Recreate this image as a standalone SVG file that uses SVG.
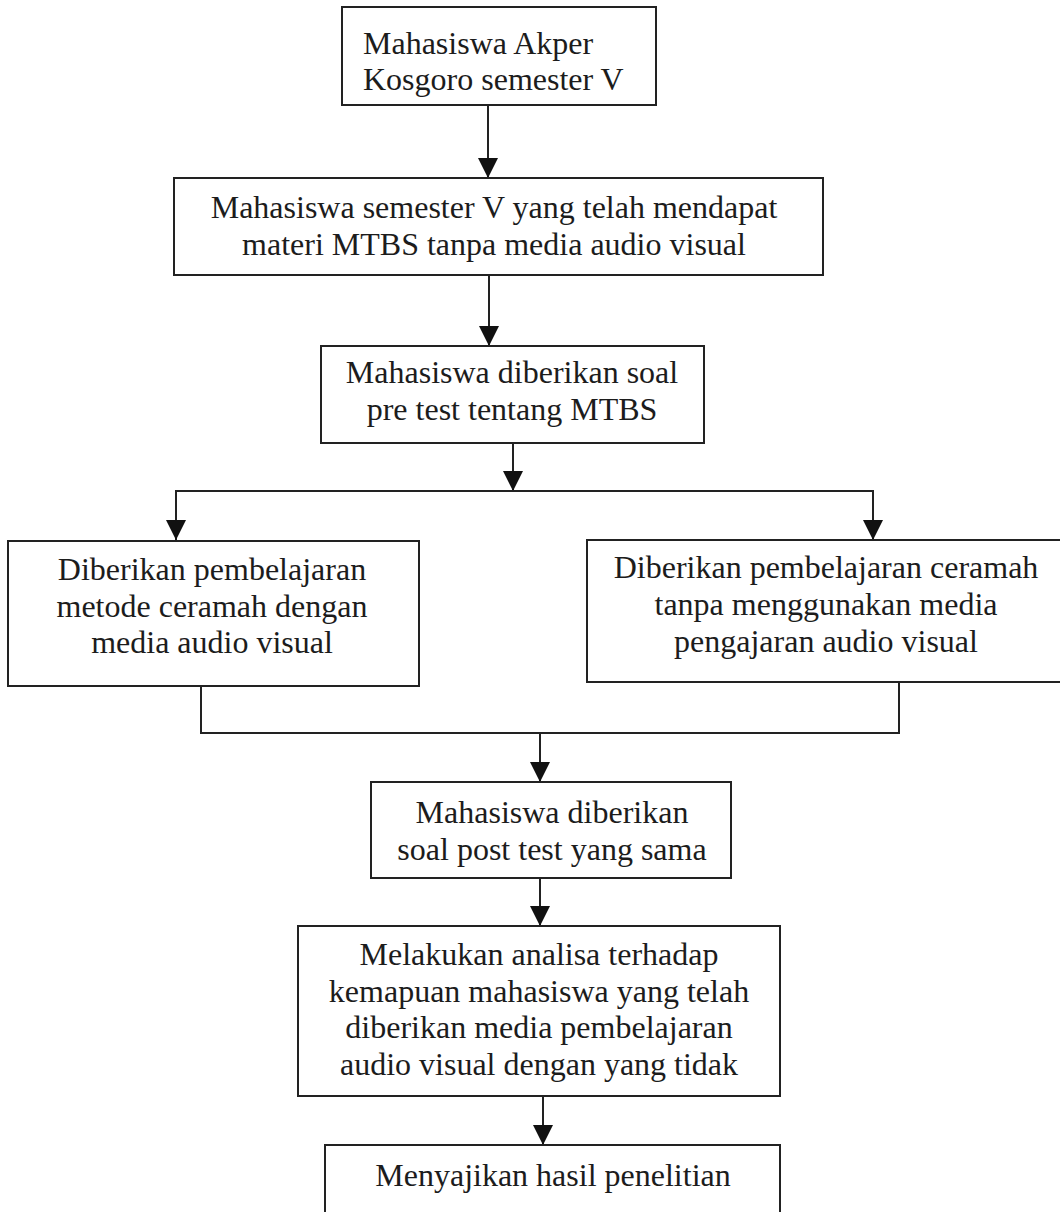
<svg xmlns="http://www.w3.org/2000/svg" width="1060" height="1212" viewBox="0 0 1060 1212">
<style>
.box{fill:#fff;stroke:#222;stroke-width:2}
.t{font-family:"Liberation Serif","Times New Roman",serif;font-size:32px;fill:#1c1c1c;text-anchor:middle}
.tl{text-anchor:start}
.c{fill:none;stroke:#222;stroke-width:2}
</style>
<defs>
<marker id="ah" markerUnits="userSpaceOnUse" markerWidth="20" markerHeight="20" refX="20" refY="10" orient="auto" viewBox="0 0 20 20">
<path d="M0,0 L20,10 L0,20 Z" fill="#111"/>
</marker>
</defs>
<rect width="1060" height="1212" fill="#fff"/>
<g id="connectors">
<line class="c" x1="488" y1="105" x2="488" y2="178" marker-end="url(#ah)"/>
<line class="c" x1="489" y1="275" x2="489" y2="346" marker-end="url(#ah)"/>
<line class="c" x1="513" y1="443" x2="513" y2="491" marker-end="url(#ah)"/>
<polyline class="c" points="176,540 176,491 873,491 873,540"/>
<line class="c" x1="176" y1="520" x2="176" y2="540" marker-end="url(#ah)"/>
<line class="c" x1="873" y1="520" x2="873" y2="540" marker-end="url(#ah)"/>
<polyline class="c" points="201,686 201,733 899,733 899,682"/>
<line class="c" x1="540" y1="733" x2="540" y2="782" marker-end="url(#ah)"/>
<line class="c" x1="540" y1="878" x2="540" y2="926" marker-end="url(#ah)"/>
<line class="c" x1="543" y1="1096" x2="543" y2="1145" marker-end="url(#ah)"/>
</g>
<g id="n1">
<rect class="box" x="342" y="7" width="314" height="98"/>
<text class="t tl" x="363" y="54">Mahasiswa Akper</text>
<text class="t tl" x="363" y="90">Kosgoro semester V</text>
</g>
<g id="n2">
<rect class="box" x="174" y="178" width="649" height="97"/>
<text class="t" x="494" y="218">Mahasiswa semester V yang telah mendapat</text>
<text class="t" x="494" y="255">materi MTBS tanpa media audio visual</text>
</g>
<g id="n3">
<rect class="box" x="321" y="346" width="383" height="97"/>
<text class="t" x="512" y="383">Mahasiswa diberikan soal</text>
<text class="t" x="512" y="420">pre test tentang MTBS</text>
</g>
<g id="n4">
<rect class="box" x="8" y="541" width="411" height="145"/>
<text class="t" x="212" y="580">Diberikan pembelajaran</text>
<text class="t" x="212" y="617">metode ceramah dengan</text>
<text class="t" x="212" y="653">media audio visual</text>
</g>
<g id="n5">
<rect class="box" x="587" y="540" width="490" height="142"/>
<text class="t" x="826" y="578">Diberikan pembelajaran ceramah</text>
<text class="t" x="826" y="615">tanpa menggunakan media</text>
<text class="t" x="826" y="652">pengajaran audio visual</text>
</g>
<g id="n6">
<rect class="box" x="371" y="782" width="360" height="96"/>
<text class="t" x="552" y="823">Mahasiswa diberikan</text>
<text class="t" x="552" y="860">soal post test yang sama</text>
</g>
<g id="n7">
<rect class="box" x="298" y="926" width="482" height="170"/>
<text class="t" x="539" y="965">Melakukan analisa terhadap</text>
<text class="t" x="539" y="1002">kemapuan mahasiswa yang telah</text>
<text class="t" x="539" y="1038">diberikan media pembelajaran</text>
<text class="t" x="539" y="1075">audio visual dengan yang tidak</text>
</g>
<g id="n8">
<rect class="box" x="325" y="1145" width="455" height="90"/>
<text class="t" x="553" y="1186">Menyajikan hasil penelitian</text>
</g>
</svg>
